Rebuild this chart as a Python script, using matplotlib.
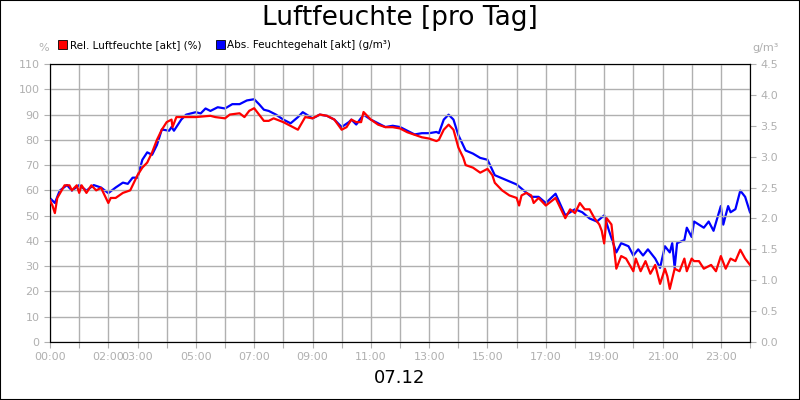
import matplotlib
matplotlib.use("Agg")
import matplotlib.pyplot as plt
from matplotlib.patches import Rectangle

red_t = ["00:00","00:05","00:10","00:15","00:30","00:40","00:45","00:55","01:00","01:05","01:15","01:25","01:30","01:35","01:45","01:50","02:00","02:05","02:15","02:30","02:45","02:50","03:00","03:10","03:20","03:30","03:40","03:50","04:00","04:10","04:12","04:20","04:40","05:00","05:30","05:40","06:00","06:10","06:30","06:40","06:50","07:00","07:10","07:20","07:30","07:40","08:00","08:20","08:30","08:45","09:00","09:15","09:30","09:45","10:00","10:10","10:20","10:30","10:40","10:45","10:50","11:00","11:15","11:30","11:45","12:00","12:15","12:30","12:45","13:00","13:15","13:20","13:30","13:40","13:50","14:00","14:10","14:15","14:30","14:45","15:00","15:10","15:15","15:30","15:45","16:00","16:05","16:10","16:20","16:30","16:35","16:45","17:00","17:20","17:40","17:50","18:00","18:10","18:20","18:30","18:40","18:50","18:55","19:00","19:05","19:15","19:25","19:35","19:45","20:00","20:05","20:15","20:25","20:35","20:45","20:55","21:05","21:10","21:15","21:25","21:35","21:45","21:50","22:00","22:05","22:15","22:25","22:40","22:50","23:00","23:10","23:20","23:30","23:40","23:50","24:00"]
red_v = [56,54,51,57,62,62,60,62,59,62,59,62,61,60,61,59,55,57,57,59,60,62,66,69,71,75,80,84,87,88,85,89,89,89,89.5,89,88.5,90,90.5,89,91.5,92.5,90,87.5,87.5,88.5,87,85,84,89,88.5,90,89.5,88,84,85,88,87,87,91,90,88,86,85,85,84.5,83,82,81,80.5,79.5,80,84,86,84,77,73,70,69,67,68.5,66,63,60,58,57,54,58,59,58,55,57,54,57,49,52.5,51,55,52.5,52.5,49,46.5,44,39,49,46.5,29,34,33,28,33,28,32,27,30.5,23,29,26,21,29,28,33,28,33,32,32,29,30.5,28,34,29,33,32,36.5,33,30.5]

blue_t = ["00:00","00:10","00:20","00:35","00:45","01:00","01:15","01:30","01:45","02:00","02:15","02:30","02:40","02:50","03:00","03:10","03:20","03:30","03:40","03:50","04:05","04:10","04:15","04:30","04:40","05:00","05:10","05:20","05:30","05:45","06:00","06:15","06:30","06:45","07:00","07:10","07:20","07:30","07:45","08:00","08:15","08:30","08:40","09:00","09:15","09:30","09:45","10:00","10:15","10:20","10:30","10:45","11:00","11:15","11:30","11:45","12:00","12:15","12:30","12:45","13:00","13:15","13:20","13:30","13:40","13:50","14:00","14:15","14:30","14:45","15:00","15:15","15:30","15:45","16:00","16:15","16:30","16:45","17:00","17:20","17:40","18:00","18:15","18:30","18:45","19:00","19:10","19:25","19:35","19:50","20:00","20:10","20:20","20:30","20:45","20:55","21:05","21:15","21:20","21:25","21:30","21:45","21:50","22:00","22:05","22:15","22:25","22:35","22:45","23:00","23:05","23:15","23:20","23:30","23:40","23:50","24:00"]
blue_v = [2.33,2.25,2.45,2.54,2.45,2.54,2.45,2.54,2.5,2.41,2.5,2.58,2.56,2.66,2.66,2.95,3.07,3.03,3.19,3.44,3.42,3.48,3.42,3.6,3.68,3.72,3.7,3.78,3.74,3.8,3.78,3.85,3.85,3.91,3.93,3.85,3.76,3.74,3.68,3.6,3.54,3.64,3.72,3.62,3.68,3.66,3.6,3.48,3.56,3.6,3.52,3.68,3.6,3.54,3.48,3.5,3.48,3.42,3.36,3.38,3.38,3.4,3.38,3.6,3.68,3.6,3.35,3.1,3.05,2.98,2.95,2.7,2.65,2.6,2.55,2.45,2.35,2.35,2.25,2.4,2.05,2.15,2.1,2.0,1.95,2.05,1.8,1.45,1.6,1.55,1.4,1.5,1.4,1.5,1.35,1.2,1.55,1.45,1.6,1.2,1.6,1.65,1.85,1.7,1.95,1.9,1.85,1.95,1.8,2.2,1.9,2.2,2.1,2.15,2.45,2.35,2.1]

xlabels = ["00:00","02:00","03:00","05:00","07:00","09:00","11:00","13:00","15:00","17:00","19:00","21:00","23:00"]
left_ticks = list(range(0, 111, 10))
right_ticks = [0.0,0.5,1.0,1.5,2.0,2.5,3.0,3.5,4.0,4.5]

def hrs(s):
    h, m = s.split(":")
    return int(h) + int(m) / 60

gray = "#b0b0b0"
fig = plt.figure(figsize=(8, 4), dpi=100)
fig.patches.append(Rectangle((0, 0), 1, 1, transform=fig.transFigure, fill=False, ec="black", lw=1.5))
ax = fig.add_axes([0.0625, 0.145, 0.875, 0.695])
ax2 = ax.twinx()
ax.plot([hrs(t) for t in red_t], red_v, color="#ff0000", lw=1.6, zorder=3)
ax2.plot([hrs(t) for t in blue_t], blue_v, color="#0000ff", lw=1.6)
ax.set_zorder(2); ax.patch.set_visible(False)
ax.set_xlim(0, 24); ax.set_ylim(0, 110); ax2.set_ylim(0, 4.5)
ax.set_xticks(range(0, 25))
ax.set_xticklabels([f"{h:02d}:00" if f"{h:02d}:00" in xlabels else "" for h in range(25)])
ax.set_yticks(left_ticks)
ax2.set_yticks(right_ticks)
ax2.set_yticklabels([f"{v:.1f}" for v in right_ticks])
ax.grid(True, color=gray, lw=1)
for a in (ax, ax2):
    a.tick_params(colors=gray, labelsize=8, length=4, labelcolor=gray)
    for s in a.spines.values():
        s.set_color("black")
fig.text(0.5, 0.955, "Luftfeuchte [pro Tag]", ha="center", va="center", fontsize=19)
fig.text(0.5, 0.055, "07.12", ha="center", va="center", fontsize=13)
fig.text(0.054, 0.88, "%", ha="center", va="center", fontsize=8, color=gray)
fig.text(0.957, 0.88, "g/m³", ha="center", va="center", fontsize=8, color=gray)
fig.patches.append(Rectangle((0.073, 0.877), 0.011, 0.022, transform=fig.transFigure, fc="#ff0000", ec="black", lw=0.6))
fig.text(0.087, 0.888, "Rel. Luftfeuchte [akt] (%)", va="center", fontsize=7.5)
fig.patches.append(Rectangle((0.27, 0.877), 0.011, 0.022, transform=fig.transFigure, fc="#0000ff", ec="black", lw=0.6))
fig.text(0.284, 0.888, "Abs. Feuchtegehalt [akt] (g/m³)", va="center", fontsize=7.5)
fig.savefig("out.png", dpi=100)
